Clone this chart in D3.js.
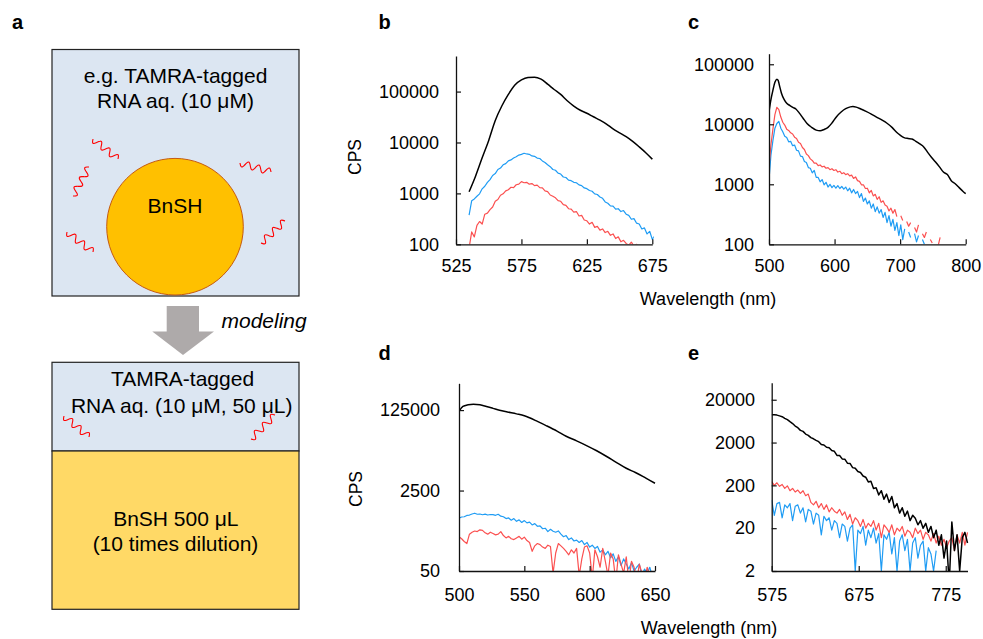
<!DOCTYPE html>
<html><head><meta charset="utf-8">
<script src="https://cdn.jsdelivr.net/npm/d3@7"></script>
<style>html,body{margin:0;padding:0;background:#fff;} svg{display:block;}</style>
</head><body><svg id="fig" width="983" height="639"></svg>
<script>
// ---------------- DATA ----------------
// Panel b
const bXTicks = [525, 575, 625, 675];
const bYTicks = [100, 1000, 10000, 100000];
const bBlackNm = [535,540,545,550,555,560,565,570,575,580,585,590,595,600,605,610,615,620,625,630,635,640,645,650,655,660,665,670,675];
const bBlackCps = [1075,2200,5000,11000,27000,52000,88000,135000,170000,190000,192000,175000,140000,110000,88000,66000,52000,43000,37500,32000,27500,23000,18500,15500,13000,10500,8200,6300,4700];
const bNoisyStartNm = 535, bNoisyStepNm = 2;
const bBlueCps = [376,720,780,880,980,1230,1380,1640,1870,2250,2450,2950,3150,3650,3850,4350,4550,4950,5250,5650,5850,6150,5950,5850,5450,5350,4950,4850,4350,4050,3650,3350,2950,2850,2500,2400,2100,2050,1820,1780,1650,1620,1470,1420,1280,1240,1140,1100,980,950,850,800,680,640,570,560,490,500,440,460,390,370,310,320,260,250,200,210,160,180,125,150];
const bRedCps = [85,175,140,235,280,250,390,410,480,540,700,760,920,980,1120,1180,1320,1300,1480,1520,1700,1620,1650,1520,1560,1420,1450,1300,1280,1120,1080,930,880,820,720,700,600,580,500,490,430,440,360,370,300,290,250,270,215,225,190,200,170,180,150,160,130,140,112,120,104,96,110,92,100,88,95];

// Panel c
const cXTicks = [500, 600, 700, 800];
const cYTicks = [100, 1000, 10000, 100000];
const cBlackNm = [500,503,506,509,512,514,516,519,523,527,532,537,541,546,552,558,565,572,578,584,590,596,603,610,617,624,628,633,640,648,656,664,672,680,688,695,700,706,712,718,724,730,736,742,748,754,760,766,772,778,784,790,796,800];
const cBlackCps = [16200,26000,37000,50000,56500,54000,44000,33000,26000,22400,20500,19000,18000,15500,12600,10300,8900,8000,7800,8200,8900,10500,13400,16000,18200,19500,19700,19300,18000,16400,14800,13200,11800,10400,8800,7300,6600,6000,5800,5700,5200,4700,4200,3400,2800,2350,1950,1600,1450,1150,1020,880,760,700];
const cNoisyStartNm = 500, cNoisyStepNm = 3;
const cRedCps = [1960,4600,8400,14500,19200,17500,13200,10800,9700,8300,7900,7200,6900,6100,5800,5000,4800,4100,3800,3200,3000,2650,2500,2250,2250,2050,2100,1950,2000,1850,1900,1750,1820,1700,1750,1600,1650,1500,1560,1450,1500,1380,1420,1250,1330,1150,1120,980,980,850,860,720,790,640,680,560,620,500,530,450,430,360,400,330,380,290,0,300,250,0,240,200,230,0,190,160,210,0,150,130,160,0,120,105,0,0,95,130,0,0,110,0,150];
const cBlueCps = [1180,3100,5400,8600,10300,11200,8600,7500,6300,6000,5100,5200,4400,4500,3700,3600,2950,2900,2400,2300,1900,1850,1550,1700,1300,1300,1100,1200,980,1080,900,1000,880,960,860,950,850,920,830,900,780,860,720,820,700,760,600,700,520,590,470,530,400,470,350,420,330,380,280,340,230,300,200,260,170,230,140,210,120,180,0,160,130,0,150,110,140,0,120,100,0,130,0,105,0,0,110];

// Panel d
const dXTicks = [500, 550, 600, 650];
const dYTicks = [50, 2500, 125000];
const dBlackNm = [500,503,507,511,516,521,526,531,537,544,550,554,560,567,575,582,590,598,605,613,620,628,635,641,646,650];
const dBlackCps = [118000,149000,162000,167000,162000,149000,136000,124000,114000,104000,95000,86000,72000,58200,45000,35000,28000,22000,17500,13100,10000,7400,6000,4900,4100,3570];
const dNoisyStartNm = 500, dNoisyStepNm = 2;
const dBlueCps = [650,690,700,745,760,800,830,790,800,770,795,760,780,775,750,790,720,700,640,660,590,640,560,600,530,580,520,540,470,500,440,450,390,400,340,380,345,330,350,300,265,280,230,250,215,225,200,220,180,200,160,175,150,165,125,140,110,130,95,115,80,100,65,90,70,55,75,50,60,70,40,55,45,60,38,50];
const dRedCps = [265,240,210,190,300,330,350,340,370,360,320,300,330,310,290,300,340,280,250,270,240,230,250,270,235,260,220,200,130,170,190,180,160,150,175,165,45,120,190,170,150,130,110,140,120,150,40,90,160,170,120,35,140,100,60,150,80,40,120,90,30,110,70,45,100,30,80,60,30,70,45,30,60,40,50];

// Panel e
const eXTicks = [575, 675, 775];
const eYTicks = [2, 20, 200, 2000, 20000];
const eNoisyStartNm = 575, eNoisyStepNm = 3;
const eBlackCps = [8900,8950,8750,8400,8050,7350,6850,6150,5550,4850,4450,3850,3650,3150,2950,2600,2450,2250,2100,1800,1750,1550,1520,1300,1250,1000,1000,830,820,660,650,520,500,420,400,330,310,240,250,170,175,120,150,95,125,80,110,60,75,45,60,38,50,30,40,34,24,30,20,26,16,22,12,18,8,14,4,10,1,28,6,14,2,12,16,9];
const eRedCps = [245,200,230,190,210,170,195,150,170,140,155,130,150,115,125,80,70,85,60,75,55,70,48,60,50,45,55,40,48,32,42,25,35,30,22,32,20,26,22,30,18,26,12,24,20,16,24,14,20,17,22,13,18,16,12,20,15,18,11,16,14,10,15,9,13,8,11,7,10,12,6,14,9,16,8,16];
const eBlueCps = [90,40,75,80,35,70,60,75,30,65,70,45,60,28,55,50,25,45,40,14,38,30,35,18,30,26,12,25,22,10,20,24,2,18,15,22,8,18,12,20,9,15,2,14,11,16,5,12,2,10,14,6,11,2,9,12,4,8,10,2,7,5,2,6];

// ---------------- DRAW ----------------
const F = '"Liberation Sans", Arial, Helvetica, sans-serif';
const svg = d3.select('#fig');
const COL = {black: '#000000', blue: '#1f9cf4', red: '#fb5050'};

function gridSeries(start, step, vals) { return vals.map((v, i) => ({nm: start + i * step, cps: v})); }
function pairSeries(nm, vals) { return nm.map((n, i) => ({nm: n, cps: vals[i]})); }

const panels = [
  {key: 'b', xr: [456, 652.3], yr: [244.3, 56], xd: [525, 675], yd: [100, 500000], xt: bXTicks, yt: bYTicks, ypad: 17, xpad: 14.8,
   series: [
     {c: 'blue', d: gridSeries(bNoisyStartNm, bNoisyStepNm, bBlueCps)},
     {c: 'red', d: gridSeries(bNoisyStartNm, bNoisyStepNm, bRedCps)},
     {c: 'black', d: pairSeries(bBlackNm, bBlackCps), smooth: true}]},
  {key: 'c', xr: [769, 965.7], yr: [244.3, 53.7], xd: [500, 800], yd: [100, 150000], xt: cXTicks, yt: cYTicks, ypad: 15, xpad: 14.8,
   series: [
     {c: 'blue', d: gridSeries(cNoisyStartNm, cNoisyStepNm, cBlueCps)},
     {c: 'red', d: gridSeries(cNoisyStartNm, cNoisyStepNm, cRedCps)},
     {c: 'black', d: pairSeries(cBlackNm, cBlackCps), smooth: true}]},
  {key: 'd', xr: [459, 655], yr: [571, 383.3], xd: [500, 650], yd: [50, 460000], xt: dXTicks, yt: dYTicks, ypad: 19, xpad: 17.2,
   series: [
     {c: 'blue', d: gridSeries(dNoisyStartNm, dNoisyStepNm, dBlueCps)},
     {c: 'red', d: gridSeries(dNoisyStartNm, dNoisyStepNm, dRedCps)},
     {c: 'black', d: pairSeries(dBlackNm, dBlackCps), smooth: true}]},
  {key: 'e', xr: [771.7, 967.5], yr: [571, 382.7], xd: [575, 800], yd: [2, 50000], xt: eXTicks, yt: eYTicks, ypad: 16.7, xpad: 17.5,
   series: [
     {c: 'blue', d: gridSeries(eNoisyStartNm, eNoisyStepNm, eBlueCps)},
     {c: 'red', d: gridSeries(eNoisyStartNm, eNoisyStepNm, eRedCps)},
     {c: 'black', d: gridSeries(eNoisyStartNm, eNoisyStepNm, eBlackCps)}]}
];

const defs = svg.append('defs');
panels.forEach(p => {
  const x = d3.scaleLinear().domain(p.xd).range(p.xr);
  const y = d3.scaleLog().domain(p.yd).range(p.yr);
  const g = svg.append('g').attr('class', 'panel-' + p.key);
  const clipId = 'clip-' + p.key;
  defs.append('clipPath').attr('id', clipId).append('rect')
    .attr('x', p.xr[0]).attr('y', p.yr[1])
    .attr('width', p.xr[1] - p.xr[0] + 1.5).attr('height', p.yr[0] - p.yr[1]);
  const lines = g.append('g').attr('clip-path', `url(#${clipId})`);
  p.series.forEach(s => {
    const line = d3.line().defined(d => d.cps > 0)
      .x(d => x(d.nm)).y(d => y(d.cps))
      .curve(s.smooth ? d3.curveMonotoneX : d3.curveLinear);
    lines.append('path').datum(s.d).attr('d', line)
      .attr('fill', 'none').attr('stroke', COL[s.c])
      .attr('stroke-width', s.c === 'black' ? 1.5 : 1.2)
      .attr('stroke-linejoin', 'round');
  });
  const xa = d3.axisBottom(x).tickValues(p.xt).tickFormat(d3.format('d'))
    .tickSizeInner(-5).tickSizeOuter(0).tickPadding(p.xpad);
  const ya = d3.axisLeft(y).tickValues(p.yt).tickFormat(d3.format('d'))
    .tickSizeInner(-5).tickSizeOuter(0).tickPadding(p.ypad);
  const gx = g.append('g').attr('transform', `translate(0,${p.yr[0]})`).call(xa);
  const gy = g.append('g').attr('transform', `translate(${p.xr[0]},0)`).call(ya);
  [gx, gy].forEach(ax => {
    ax.attr('font-family', F).attr('font-size', 18);
    ax.select('.domain').attr('stroke', '#111').attr('stroke-width', 1.3);
    ax.selectAll('.tick line').attr('stroke', '#111').attr('stroke-width', 1.2);
    ax.selectAll('.tick text').attr('fill', '#000');
  });
});

// axis titles
function label(txt, x, y, opts = {}) {
  const t = svg.append('text').text(txt)
    .attr('font-family', F).attr('font-size', opts.size || 18)
    .attr('font-weight', opts.weight || 'normal')
    .attr('font-style', opts.style || 'normal')
    .attr('text-anchor', opts.anchor || 'start')
    .attr('fill', opts.fill || '#000');
  if (opts.rotate) t.attr('transform', `translate(${x},${y}) rotate(${opts.rotate})`);
  else t.attr('x', x).attr('y', y);
  return t;
}
label('CPS', 361, 157, {rotate: -90, anchor: 'middle', size: 17.5});
label('CPS', 362, 489, {rotate: -90, anchor: 'middle', size: 17.5});
label('Wavelength (nm)', 708, 305, {anchor: 'middle'});
label('Wavelength (nm)', 709, 634, {anchor: 'middle'});

// panel letters
label('a', 12, 29.3, {weight: 'bold', size: 20});
label('b', 378.5, 29.3, {weight: 'bold', size: 20});
label('c', 688, 29.3, {weight: 'bold', size: 20});
label('d', 378.5, 360, {weight: 'bold', size: 20});
label('e', 688, 360, {weight: 'bold', size: 20});

// ---------------- PANEL a (schematic) ----------------
const A = svg.append('g');
A.append('rect').attr('x', 52).attr('y', 49.5).attr('width', 247).attr('height', 246.5)
  .attr('fill', '#dce6f2').attr('stroke', '#222').attr('stroke-width', 1.2);
label('e.g. TAMRA-tagged', 175.5, 83.3, {anchor: 'middle', size: 21});
label('RNA aq. (10 \u03bcM)', 175.5, 108.3, {anchor: 'middle', size: 21});
A.append('circle').attr('cx', 175).attr('cy', 226.7).attr('r', 68.3)
  .attr('fill', '#ffc000').attr('stroke', '#c55a11').attr('stroke-width', 1);
label('BnSH', 175, 213.3, {anchor: 'middle', size: 21});

// arrow
A.append('rect').attr('x', 166.7).attr('y', 306).attr('width', 32.3).attr('height', 26).attr('fill', '#aeaaaa');
A.append('path').attr('d', 'M152.3,331.5 L214,331.5 L183,355 Z').attr('fill', '#aeaaaa');
label('modeling', 221.5, 328, {style: 'italic', size: 21});

// second box
A.append('rect').attr('x', 52).attr('y', 362.3).attr('width', 247).attr('height', 88.7)
  .attr('fill', '#dce6f2').attr('stroke', '#222').attr('stroke-width', 1.2);
A.append('rect').attr('x', 52).attr('y', 451).attr('width', 247).attr('height', 158.3)
  .attr('fill', '#ffd966').attr('stroke', '#222').attr('stroke-width', 1.2);
label('TAMRA-tagged', 182.5, 386, {anchor: 'middle', size: 21});
label('RNA aq. (10 \u03bcM, 50 \u03bcL)', 181.7, 413.3, {anchor: 'middle', size: 21});
label('BnSH 500 \u03bcL', 175.8, 526, {anchor: 'middle', size: 21});
label('(10 times dilution)', 175.5, 550.5, {anchor: 'middle', size: 21});

// squiggles (RNA strands)
const squiggles = [
  [[93, 139], [118, 159]],
  [[73, 196], [89, 167]],
  [[67, 232], [93, 252]],
  [[240, 163], [271, 172]],
  [[261, 243], [285, 221]],
  [[64, 416], [89, 437]],
  [[251, 439], [275, 415]]
];
squiggles.forEach(([p0, p1]) => {
  const dx = p1[0] - p0[0], dy = p1[1] - p0[1];
  const L = Math.hypot(dx, dy), ux = dx / L, uy = dy / L, nx = -uy, ny = ux;
  const pts = d3.range(0, 1.0001, 1 / 36).map(t => {
    const off = 3.5 * Math.sin(2 * Math.PI * 3 * t);
    return [p0[0] + dx * t + nx * off, p0[1] + dy * t + ny * off];
  });
  A.append('path').attr('d', d3.line().curve(d3.curveBasis)(pts))
    .attr('fill', 'none').attr('stroke', '#ff0000').attr('stroke-width', 1.1);
});
</script></body></html>
